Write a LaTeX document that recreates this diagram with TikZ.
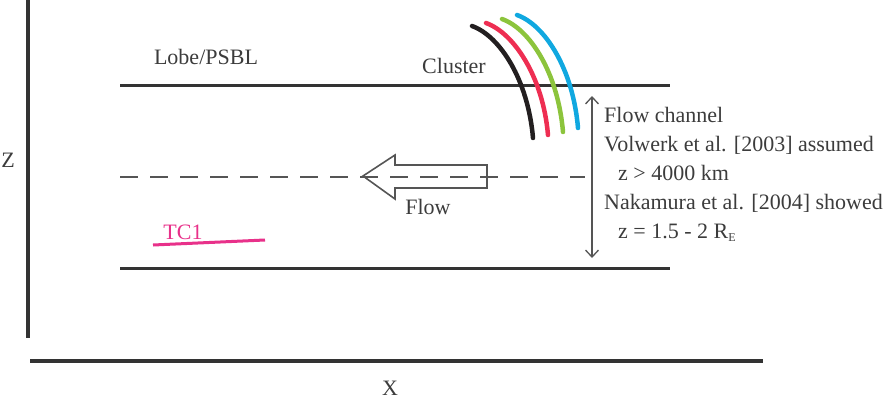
\documentclass[tikz,border=0pt]{standalone}
\usepackage{fontspec}
\setmainfont{Liberation Serif}
\newfontfamily\labelfont{Liberation Serif}
\usepackage{tikz}
\usetikzlibrary{arrows.meta}

\definecolor{axisgray}{HTML}{333333}
\definecolor{textgray}{HTML}{3C3C3C}
\definecolor{arrowgray}{HTML}{555555}
\definecolor{clblack}{HTML}{231F20}
\definecolor{clred}{HTML}{EE2E52}
\definecolor{clgreen}{HTML}{8CC43C}
\definecolor{clblue}{HTML}{10A8E0}
\definecolor{tcpink}{HTML}{E8318A}

\begin{document}
\begin{tikzpicture}[x=1pt, y=-1pt,
	every node/.style = {text=textgray, inner sep=0pt,
		font=\labelfont\fontsize{22}{29}\selectfont}]
	\useasboundingbox (0,0) rectangle (896,410);
	% axes
	\begin{scope}[line width=3.5pt, draw=axisgray]
		\draw (28,0) -- (28,338);
		\draw (30,361) -- (763,361);
	\end{scope}
	\node (Z) at (8,160) {Z};
	\node (X) at (390,388) {X};
	% channel boundaries
	\begin{scope}[line width=3pt, draw=axisgray]
		\draw (120,85) coordinate (topL) -- (670,85) coordinate (topR);
		\draw (120,268) coordinate (botL) -- (670,268) coordinate (botR);
	\end{scope}
	\node (lobe) at (206,57) {Lobe/PSBL};
	% neutral sheet and flow
	\draw[arrowgray, line width=1.6pt, dash pattern=on 18pt off 12pt]
		(120,177) -- (585,177);
	\draw[arrowgray, line width=1.6pt, line join=miter]
		(363,176) -- (395,155) -- (395,165) -- (487,165) -- (487,188)
		-- (395,188) -- (395,199) -- cycle;
	\node (flow) at (428,207) {Flow};
	% cluster spacecraft
	\node (cluster) at (454,66) {Cluster};
	\begin{scope}[line width=4.5pt, line cap=round]
		\draw[clblack] (472,26) .. controls (500,36) and (528,80) .. (533,138);
		\draw[clred]   (486,23) .. controls (514,33) and (543,77) .. (548,135);
		\draw[clgreen] (502,19) .. controls (530,29) and (558,73) .. (563,132);
		\draw[clblue]  (517,15) .. controls (545,25) and (573,69) .. (578,128);
	\end{scope}
	% TC1
	\node[text=tcpink] (tc) at (183,232) {TC1};
	\draw[tcpink, line width=3pt] (153,245) -- (265,240);
	% channel width
	\coordinate (chtop) at (592,96);
	\coordinate (chbot) at (592,258);
	\begin{scope}[>={Straight Barb[length=7pt, width=13pt]},
			every edge/.style={draw=arrowgray, line width=1.3pt}]
		\path [<->] (chtop) edge (chbot);
	\end{scope}
	\node[anchor=west, align=left] (info) at (604,174) {Flow channel\\
		Volwerk et al. [2003] assumed\\
		\hspace*{14pt}z > 4000 km\\
		Nakamura et al. [2004] showed\\
		\hspace*{14pt}z = 1.5 - 2 R{\fontsize{12}{12}\selectfont\raisebox{-3pt}{E}}};
\end{tikzpicture}
\end{document}
